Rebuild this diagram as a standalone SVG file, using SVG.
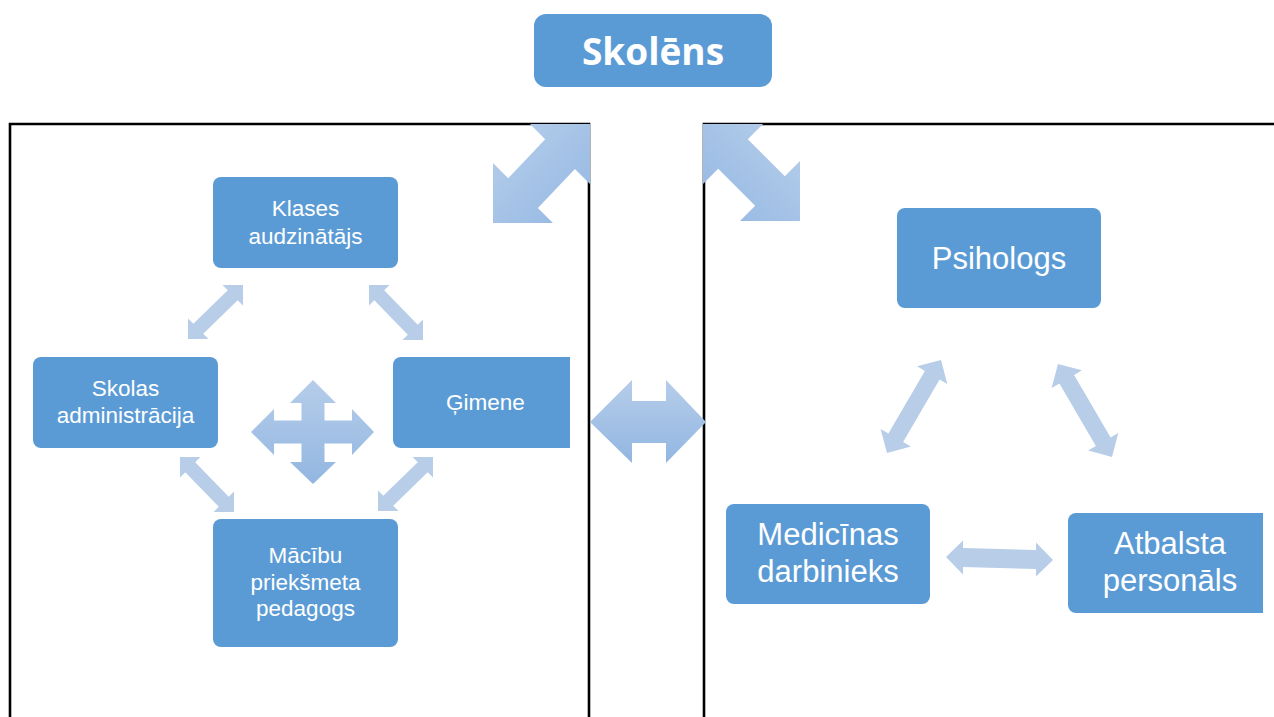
<svg xmlns="http://www.w3.org/2000/svg" width="1274" height="717" viewBox="0 0 1274 717">
<style>
.node{fill:#5b9bd5;}
.t{fill:#ffffff;font-family:"Liberation Sans",Arial,sans-serif;text-anchor:middle;}
.ts{font-size:22.5px;}
.tl{font-size:31px;}
.frame{fill:none;stroke:#000;stroke-width:2.6;}
.la{fill:#b7cde8;}
</style>
<defs>
<linearGradient id="gv" x1="0" y1="0" x2="0" y2="1">
<stop offset="0" stop-color="#b6cdea"/>
<stop offset="1" stop-color="#92b6e1"/>
</linearGradient>
<linearGradient id="gl" x1="0" y1="0" x2="1" y2="1">
<stop offset="0" stop-color="#b8cfeb"/>
<stop offset="1" stop-color="#93b7e2"/>
</linearGradient>
<linearGradient id="gr" x1="1" y1="0" x2="0" y2="1">
<stop offset="0" stop-color="#b8cfeb"/>
<stop offset="1" stop-color="#93b7e2"/>
</linearGradient>
</defs>
<rect width="1274" height="717" fill="#fff"/>
<g id="frames">
<path class="frame" d="M10,717 V124 H589 V717"/>
<path class="frame" d="M704,717 V124 H1274"/>
</g>
<g id="connectors">
<polygon fill="url(#gl)" points="590,124 590,184 574.9,168.9 537.9,207.9 553,223 493,223 493,163 508.2,178.2 545.2,139.2 530,124"/>
<polygon fill="url(#gr)" points="703,124 703,184 718.2,168.8 755.2,205.8 740,221 800,221 800,161 784.8,176.2 747.8,139.2 763,124"/>
<polygon fill="url(#gv)" points="590,422 632,380 632,401 666,401 666,380 706,422 666,463 666,443 632,443 632,463"/>
<polygon fill="url(#gv)" points="313,380 336,403 324.5,403 324.5,420.5 352,420.5 352,409 374,432 352,455 352,443.5 324.5,443.5 324.5,462 336,462 313,484 290,462 301.5,462 301.5,443.5 274,443.5 274,455 251,432 274,409 274,420.5 301.5,420.5 301.5,403 290,403"/>
<polygon class="la" points="243,285 243,305.5 237.7,300.2 203.2,333.7 208.5,339 188,339 188,318.5 193.3,323.8 227.8,290.3 222.5,285"/>
<polygon class="la" points="369,285 369,305.5 374.3,300.2 407.8,334.7 402.5,340 423,340 423,319.5 417.7,324.8 384.2,290.3 389.5,285"/>
<polygon class="la" transform="translate(-189,172)" points="369,285 369,305.5 374.3,300.2 407.8,334.7 402.5,340 423,340 423,319.5 417.7,324.8 384.2,290.3 389.5,285"/>
<polygon class="la" transform="translate(190,172)" points="243,285 243,305.5 237.7,300.2 203.2,333.7 208.5,339 188,339 188,318.5 193.3,323.8 227.8,290.3 222.5,285"/>
<polygon class="la" points="941,360 947.3,383.9 939.6,379.4 903.1,442.1 910.9,446.6 887,453 880.6,429.1 888.4,433.6 924.9,370.9 917.1,366.3"/>
<polygon class="la" points="1058,364 1051.6,387.9 1059.4,383.4 1095.9,446.1 1088.1,450.6 1112,457 1118.3,433.1 1110.6,437.6 1074.1,374.9 1081.9,370.3"/>
<polygon class="la" points="946,557 963,540.5 963,548 1036,550 1036,542.5 1053,560 1036,576.5 1036,569 963,567 963,574.5"/>
</g>
<g id="skolens">
<rect class="node" x="534" y="14" width="238" height="73" rx="12"/>
<text class="t" x="653" y="65" font-size="37" font-weight="bold" style="font-family:'Open Sans','Noto Sans',sans-serif">Skolēns</text>
</g>
<g id="klases">
<rect class="node" x="213" y="177" width="185" height="91" rx="8"/>
<text class="t ts" x="305.5" y="216">Klases</text>
<text class="t ts" x="305.5" y="244">audzinātājs</text>
</g>
<g id="skolas">
<rect class="node" x="33" y="357" width="185" height="91" rx="8"/>
<text class="t ts" x="125.5" y="396">Skolas</text>
<text class="t ts" x="125.5" y="423">administrācija</text>
</g>
<g id="gimene">
<path class="node" d="M401,357 H570 V448 H401 A8,8 0 0 1 393,440 V365 A8,8 0 0 1 401,357 Z"/>
<text class="t ts" x="485.5" y="410">Ģimene</text>
</g>
<g id="macibu">
<rect class="node" x="213" y="519" width="185" height="128" rx="8"/>
<text class="t ts" x="305.5" y="563">Mācību</text>
<text class="t ts" x="305.5" y="590">priekšmeta</text>
<text class="t ts" x="305.5" y="616">pedagogs</text>
</g>
<g id="psihologs">
<rect class="node" x="897" y="208" width="204" height="100" rx="8"/>
<text class="t tl" x="999" y="269">Psihologs</text>
</g>
<g id="medicinas">
<rect class="node" x="726" y="504" width="204" height="100" rx="8"/>
<text class="t tl" x="828" y="545">Medicīnas</text>
<text class="t tl" x="828" y="582">darbinieks</text>
</g>
<g id="atbalsta">
<path class="node" d="M1076,513 H1263 V613 H1076 A8,8 0 0 1 1068,605 V521 A8,8 0 0 1 1076,513 Z"/>
<text class="t tl" x="1170" y="554">Atbalsta</text>
<text class="t tl" x="1170" y="591">personāls</text>
</g>
</svg>
